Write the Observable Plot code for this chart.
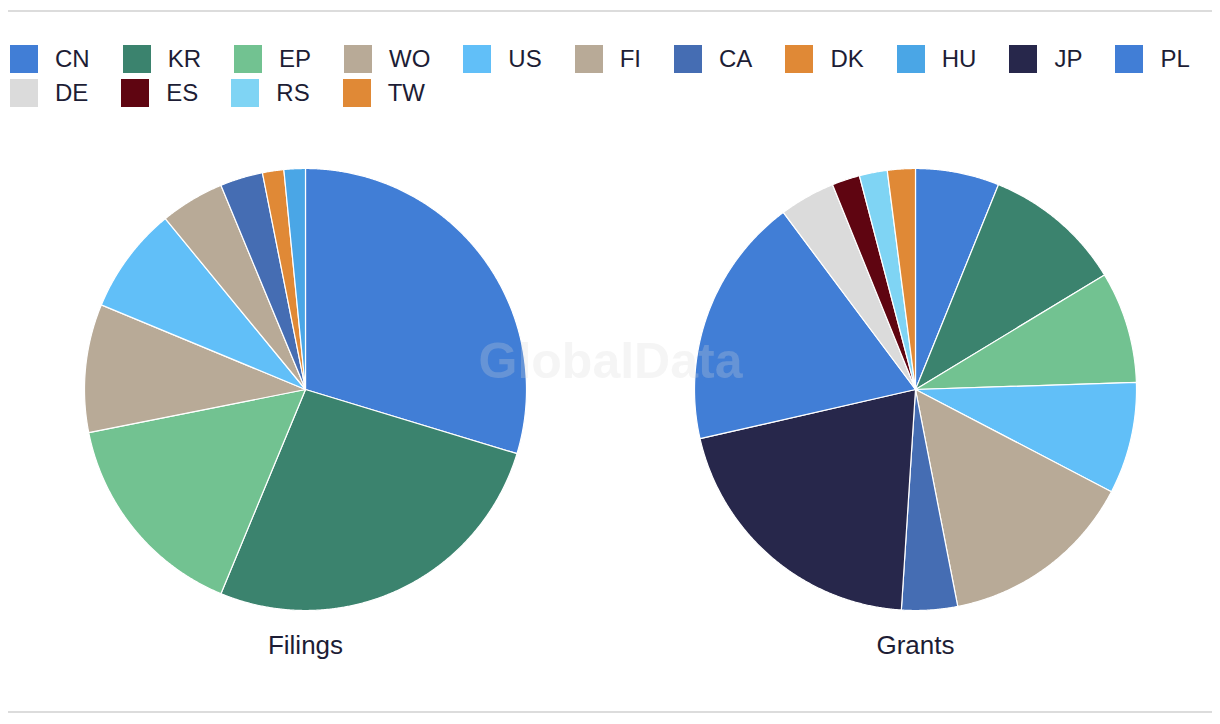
<!DOCTYPE html>
<html><head><meta charset="utf-8">
<script src="https://cdn.jsdelivr.net/npm/d3@7"></script>
<script src="https://cdn.jsdelivr.net/npm/@observablehq/plot@0.6"></script>
<style>
html,body{margin:0;padding:0;background:#fff;}
body{width:1220px;height:724px;position:relative;overflow:hidden;font-family:"Liberation Sans",Arial,sans-serif;color:#1d1d35;}
.rule{position:absolute;left:8px;width:1204px;height:2px;background:#dcdcdc;}
#legend{position:absolute;left:10px;top:45px;width:1200px;display:flex;flex-wrap:wrap;column-gap:33px;row-gap:6px;}
.item{display:flex;align-items:center;height:28px;}
.sw{width:28px;height:28px;margin-right:17px;flex:none;}
.lab{font-size:24px;line-height:28px;white-space:nowrap;}
#chart{position:absolute;left:0;top:116px;}
</style></head><body>
<div class="rule" style="top:10px"></div>
<div id="legend"></div>
<div id="chart"></div>
<div class="rule" style="top:711px"></div>
<script>
// ---- data ----
const countries = ["CN","KR","EP","WO","US","FI","CA","DK","HU","JP","PL","DE","ES","RS","TW"];
const colors = ["#417ed6","#3b836e","#72c291","#b8aa97","#61bff8","#b8aa97","#456db3","#e08936","#4aa6e6","#27274b","#417ed6","#dbdbdb","#5f0511","#7fd4f4","#e08936"];
const filingsCountries = ["CN","KR","EP","WO","US","FI","CA","DK","HU"];
const filingsValues = [19,17,10,6,5,3,2,1,1];
const grantsCountries = ["CN","KR","EP","US","FI","CA","JP","PL","DE","ES","RS","TW"];
const grantsValues = [3,5,4,4,7,2,10,9,2,1,1,1];
const pieLabels = ["Filings","Grants"];
const watermark = "GlobalData";

// ---- legend ----
const leg = document.getElementById("legend");
countries.forEach((c, i) => {
  const it = document.createElement("div"); it.className = "item";
  const sw = document.createElement("div"); sw.className = "sw"; sw.style.background = colors[i];
  const lb = document.createElement("span"); lb.className = "lab"; lb.textContent = c;
  it.appendChild(sw); it.appendChild(lb); leg.appendChild(it);
});

// ---- layout ----
const W = 1220, H = 560, R = 221;        // pixels per data unit = pie radius
const cxPx = [305, 915], cyPx = 273;      // pie centres in svg pixels
const centers = cxPx.map(p => (p - cxPx[0]) / R);
const xDomain = [(0 - cxPx[0]) / R, (W - cxPx[0]) / R];
const yDomain = [-(H - cyPx) / R, cyPx / R];

// ---- slice polygons from d3.pie ----
const pies = [
  {name: pieLabels[0], keys: filingsCountries, values: filingsValues},
  {name: pieLabels[1], keys: grantsCountries, values: grantsValues}
];
const pts = [];
pies.forEach((p, pi) => {
  const arcs = d3.pie().sort(null).value(d => d.v)(p.keys.map((k, i) => ({k, v: p.values[i]})));
  arcs.forEach(a => {
    const z = p.name + "-" + a.data.k;
    const cx = centers[pi];
    pts.push({z, country: a.data.k, x: cx, y: 0});
    const n = Math.max(2, Math.ceil((a.endAngle - a.startAngle) / 0.005));
    for (let j = 0; j <= n; j++) {
      const t = a.startAngle + (a.endAngle - a.startAngle) * j / n;
      pts.push({z, country: a.data.k, x: cx + Math.sin(t), y: Math.cos(t)});
    }
    pts.push({z, country: a.data.k, x: cx, y: 0});
  });
});

const labelY = (cyPx - 529) / R;
const wmX = (610 - cxPx[0]) / R, wmY = (cyPx - 245.5) / R;

const chart = Plot.plot({
  width: W, height: H,
  margin: 0,
  style: {fontFamily: "Liberation Sans, Arial, sans-serif", background: "transparent", overflow: "visible"},
  x: {domain: xDomain, axis: null},
  y: {domain: yDomain, axis: null},
  color: {domain: countries, range: colors},
  marks: [
    Plot.line(pts, {x: "x", y: "y", z: "z", fill: "country", stroke: "white", strokeWidth: 1.2, strokeLinejoin: "round"}),
    Plot.text([watermark], {x: [wmX], y: [wmY], text: d => d, fontSize: 50, fontWeight: "bold", fill: "#d8d8d8", fillOpacity: 0.25}),
    Plot.text(pieLabels, {x: (d, i) => centers[i], y: labelY, text: d => d, fontSize: 26, fill: "#1d1d35"})
  ]
});
document.getElementById("chart").appendChild(chart);
</script>
</body></html>
